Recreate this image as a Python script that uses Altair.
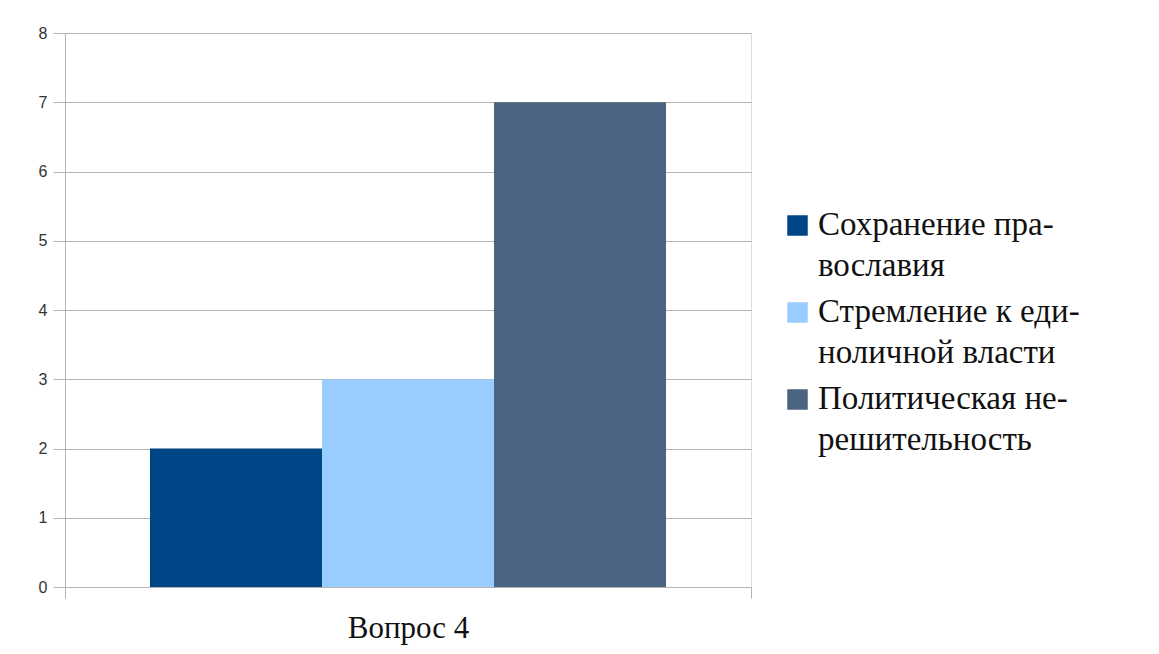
import altair as alt
import pandas as pd

question = ["Вопрос 4", "Вопрос 4", "Вопрос 4"]
series = ["Сохранение пра-|вославия", "Стремление к еди-|ноличной власти", "Политическая не-|решительность"]
values = [2, 3, 7]
colors = ["#004586", "#99ccff", "#4a6482"]
y_ticks = [0, 1, 2, 3, 4, 5, 6, 7, 8]

df = pd.DataFrame({"q": question, "s": series, "v": values})

grid = "#b3b3b3"
DY = -17
XTICK = 11

chart = alt.Chart(df).mark_bar().encode(
    x=alt.X("q:N", title=None,
            scale=alt.Scale(paddingOuter=0, paddingInner=0),
            axis=alt.Axis(labelAngle=0, labelFont="Liberation Serif", labelFontSize=31,
                          labelColor="#111", labelPadding=41 - DY - 15 - XTICK, domain=False,
                          ticks=True, tickBand="extent", tickSize=XTICK, tickColor=grid)),
    xOffset=alt.XOffset("s:N", sort=series,
                        scale=alt.Scale(paddingInner=0, paddingOuter=0.494)),
    y=alt.Y("v:Q", title=None,
            scale=alt.Scale(domain=[0, 8]),
            axis=alt.Axis(values=y_ticks, labelFont="Liberation Sans", labelFontSize=16,
                          labelColor="#333", tickSize=12, tickColor=grid, domainColor=grid,
                          gridColor=grid, labelPadding=6, labelOffset=-DY)),
    color=alt.Color("s:N", sort=series, scale=alt.Scale(domain=series, range=colors),
                    legend=alt.Legend(title=None, orient="none", legendX=716, legendY=176,
                                      symbolType="square", symbolSize=420, symbolStrokeWidth=0,
                                      labelFont="Liberation Serif", labelFontSize=33,
                                      labelColor="#111", labelLimit=500,
                                      labelExpr="split(datum.label, '|')",
                                      labelBaseline="top", labelOffset=4,
                                      rowPadding=12, symbolOffset=0)),
).properties(
    width=686, height=554,
    padding={"left": 30, "top": 17, "right": 5, "bottom": 5},
).configure_view(stroke=grid, strokeWidth=1).configure(
    background="white",
    style={"guide-label": {"dy": DY, "lineHeight": 41}},
)

chart.save("out.html", embed_options={"renderer": "svg", "actions": False})
